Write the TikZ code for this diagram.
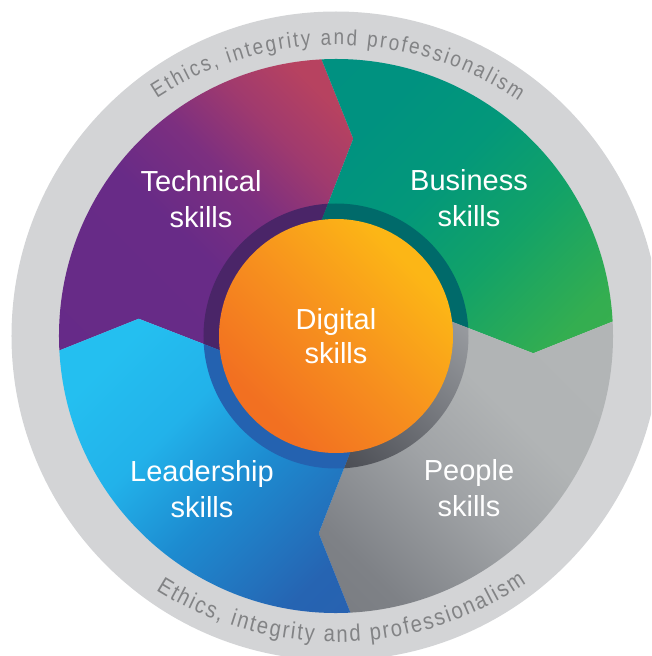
\documentclass[tikz,border=0pt]{standalone}
\usepackage{fontspec}
\setmainfont{Liberation Sans}
\newfontfamily\ringfam[FakeStretch=0.86]{Liberation Sans}
\usetikzlibrary{calc,decorations.text}

\definecolor{ringgray}{HTML}{D3D4D6}
\definecolor{ringtext}{HTML}{828385}
\definecolor{techDark}{HTML}{4A2568}
\definecolor{busDark}{HTML}{006A6A}
\definecolor{peoDarkA}{HTML}{A5A8AC}
\definecolor{peoDarkB}{HTML}{393B42}
\definecolor{leaDark}{HTML}{2462B0}

\pgfdeclareverticalshading{techshade}{100bp}{color(0bp)=(rgb,255:red,101;green,42;blue,136); color(45bp)=(rgb,255:red,104;green,43;blue,135);
  color(57bp)=(rgb,255:red,124;green,47;blue,128); color(68bp)=(rgb,255:red,160;green,58;blue,110);
  color(78bp)=(rgb,255:red,183;green,66;blue,96); color(100bp)=(rgb,255:red,184;green,66;blue,95)}
\pgfdeclareverticalshading{busshade}{100bp}{color(0bp)=(rgb,255:red,64;green,178;blue,74); color(22bp)=(rgb,255:red,52;green,174;blue,80);
  color(40bp)=(rgb,255:red,18;green,162;blue,104); color(55bp)=(rgb,255:red,3;green,152;blue,122);
  color(70bp)=(rgb,255:red,0;green,146;blue,128); color(100bp)=(rgb,255:red,0;green,144;blue,130)}
\pgfdeclareverticalshading{peoshade}{100bp}{color(0bp)=(rgb,255:red,114;green,117;blue,123); color(25bp)=(rgb,255:red,126;green,129;blue,134);
  color(45bp)=(rgb,255:red,160;green,163;blue,166); color(60bp)=(rgb,255:red,177;green,180;blue,181); color(100bp)=(rgb,255:red,179;green,182;blue,183)}
\pgfdeclareverticalshading{leashade}{100bp}{color(0bp)=(rgb,255:red,41;green,93;blue,173); color(25bp)=(rgb,255:red,38;green,100;blue,178);
  color(45bp)=(rgb,255:red,29;green,139;blue,208); color(60bp)=(rgb,255:red,34;green,178;blue,234); color(75bp)=(rgb,255:red,36;green,191;blue,240); color(100bp)=(rgb,255:red,36;green,191;blue,240)}
\pgfdeclareverticalshading{digshade}{100bp}{color(0bp)=(rgb,255:red,242;green,107;blue,33); color(28bp)=(rgb,255:red,242;green,112;blue,33);
  color(50bp)=(rgb,255:red,247;green,145;blue,30); color(72bp)=(rgb,255:red,252;green,182;blue,22); color(100bp)=(rgb,255:red,253;green,186;blue,19)}

% segment outline: #1 = angle of the boundary where the segment starts (going clockwise)
\newcommand\segshape[1]{({#1+3}:277) arc[start angle={#1+3}, end angle={#1-87}, radius=277]
  -- ({#1-95}:198) -- ({#1-83}:117) -- ($({#1-95}:198)!1.5!({#1-83}:117)$) -- (0,0)
  -- ($({#1-5}:198)!1.5!({#1+7}:117)$) -- ({#1+7}:117) -- ({#1-5}:198) -- cycle}

\tikzset{
  skilltext/.style={text=white, font=\fontsize{29}{36}\selectfont, align=center, inner sep=0pt, anchor=base},
  ringlabel/.style={decorate, decoration={text along path, text color=ringtext,
      text align=fit to path, text={|\ringfam\fontsize{#1}{24}\selectfont|Ethics, integrity and professionalism}}},
  darkring/.style={radius=132.5}
}

\begin{document}
\begin{tikzpicture}[x=1pt,y=1pt]
\useasboundingbox (-336,-320) rectangle (315,336);
\clip (-336,-320) rectangle (315,336);

% outer ethics ring
\fill[ringgray] (0,0) circle[radius=324.5];

% segments
\shade[shading=techshade, shading angle=-45] \segshape{180};
\shade[shading=busshade, shading angle=45] \segshape{90};
\shade[shading=peoshade, shading angle=-45] \segshape{0};
\shade[shading=leashade, shading angle=45] \segshape{-90};

% dark inner ring
\begin{scope}
  \clip \segshape{180};
  \fill[techDark] (0,0) circle[darkring];
\end{scope}
\begin{scope}
  \clip \segshape{90};
  \fill[busDark] (0,0) circle[darkring];
\end{scope}
\begin{scope}
  \clip \segshape{0};
  \shade[top color=peoDarkA, bottom color=peoDarkB, shading angle=-45] (0,0) circle[darkring];
\end{scope}
\begin{scope}
  \clip \segshape{-90};
  \fill[leaDark] (0,0) circle[darkring];
\end{scope}

% digital core
\shade[shading=digshade, shading angle=-45] (0,0) circle[radius=117];

% ring texts
\begin{scope}[shift={(0,-36)}]
  \path[ringlabel=22] (123.2:327) arc[start angle=123.2, end angle=56.1, radius=327];
\end{scope}
\begin{scope}[shift={(0,34)}]
  \path[ringlabel=23.5] (238:340) arc[start angle=238, end angle=304, radius=340];
\end{scope}

% labels (anchored at the baseline of the last line)
\node[skilltext] (tech) at (-135,108.3) {Technical\\skills};
\node[skilltext] (bus) at (133,109.3) {Business\\skills};
\node[skilltext, font=\fontsize{29}{33.5}\selectfont] (dig) at (0,-27.3) {Digital\\skills};
\node[skilltext] (lead) at (-134,-181) {Leadership\\skills};
\node[skilltext] (peo) at (133,-180.7) {People\\skills};
\end{tikzpicture}
\end{document}
